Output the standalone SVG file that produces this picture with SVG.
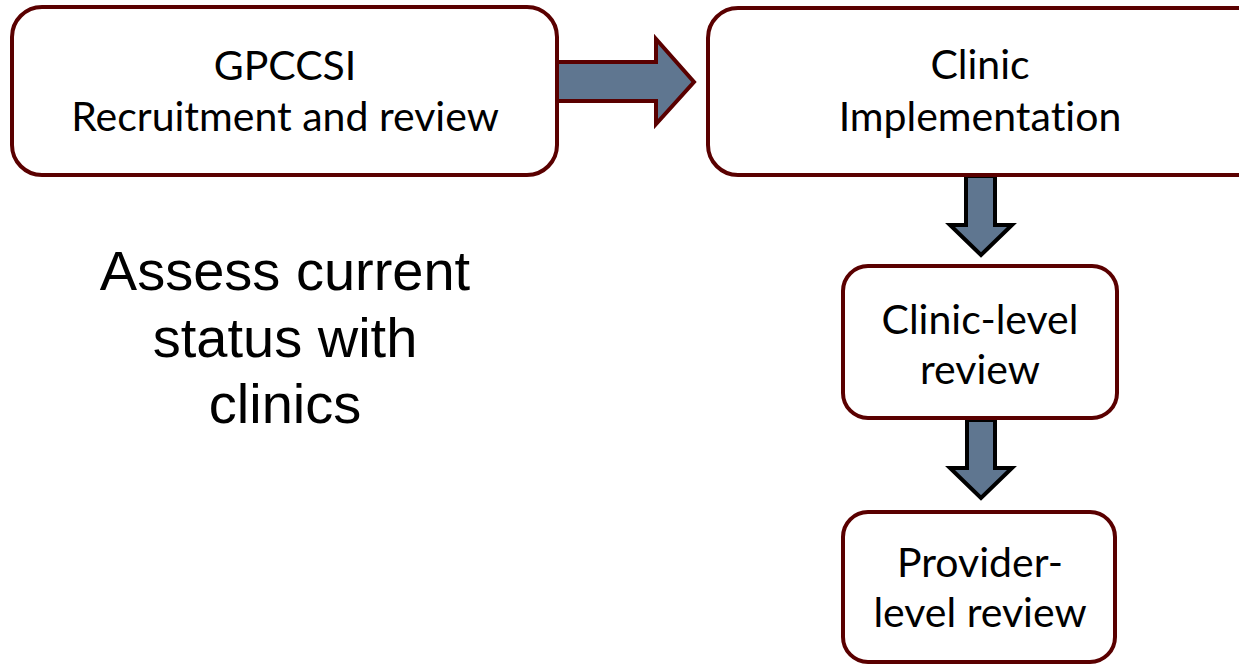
<svg xmlns="http://www.w3.org/2000/svg" width="1239" height="664" viewBox="0 0 1239 664">
<style>
.box{fill:#fff;stroke:#5a0000;stroke-width:4}
.t{font-family:Lato,"Open Sans",sans-serif;font-size:41px;fill:#000;text-anchor:middle;font-variant-ligatures:none}
.big{font-family:"Liberation Sans",Arial,sans-serif;font-size:56px;fill:#000;text-anchor:middle}
.arr{fill:#5f7690;stroke-width:4;stroke-linejoin:miter}
</style>
<rect width="1239" height="664" fill="#fff"/>
<g id="connectors">
<polygon class="arr" stroke="#5a0000" points="557,62 656,62 656,39 694,82 656,124 656,101 557,101"/>
<polygon class="arr" stroke="#000" points="966,176 995,176 995,225 1012,225 981,255 950,225 966,225"/>
<polygon class="arr" stroke="#000" points="967,420 995,420 995,468 1012,468 981,498 950,468 967,468"/>
</g>
<g id="gpccsi">
<rect class="box" x="12" y="7" width="545" height="168" rx="30"/>
<text class="t" x="285" y="80">GPCCSI</text>
<text class="t" x="285" y="131">Recruitment and review</text>
</g>
<g id="clinic">
<rect class="box" x="708" y="8" width="560" height="167" rx="30"/>
<text class="t" x="980" y="79">Clinic</text>
<text class="t" x="980" y="131">Implementation</text>
</g>
<g id="clinic-level">
<rect class="box" x="843" y="266" width="274" height="152" rx="25"/>
<text class="t" x="980" y="334">Clinic-level</text>
<text class="t" x="980" y="384">review</text>
</g>
<g id="provider-level">
<rect class="box" x="843" y="512" width="272" height="150" rx="25"/>
<text class="t" x="980" y="577">Provider-</text>
<text class="t" x="980" y="627">level review</text>
</g>
<g id="assess">
<text class="big" x="285" y="290">Assess current</text>
<text class="big" x="285" y="357">status with</text>
<text class="big" x="285" y="423">clinics</text>
</g>
</svg>
